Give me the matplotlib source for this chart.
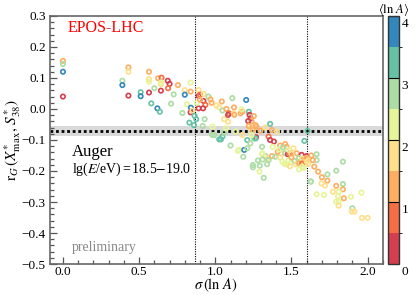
import numpy as np
import matplotlib
matplotlib.use("Agg")
import matplotlib.pyplot as plt
from matplotlib.colors import ListedColormap, BoundaryNorm
from matplotlib.ticker import MultipleLocator
from matplotlib.transforms import ScaledTranslation

# points: sigma(lnA), r_G, <lnA>
sigma_lnA = [
    0.0, 0.0, 0.0, 0.0,
    0.43, 0.43, 0.39, 0.39, 0.43,
    0.51, 0.51, 0.565, 0.565, 0.565, 0.565, 0.60, 0.58, 0.62, 0.636, 0.625, 0.647, 0.643, 0.643, 0.645,
    0.688, 0.70, 0.69, 0.727, 0.755, 0.80, 0.838, 0.838, 0.80, 0.814, 0.71, 0.784, 0.84, 0.838, 0.85,
    0.89, 0.89, 0.90, 0.864, 0.875, 0.83, 0.86, 0.93, 0.917, 0.922, 0.935, 0.89, 0.92, 0.924, 0.955,
    0.968, 0.976, 0.88, 0.90,
    1.008, 1.043, 1.026, 1.047, 1.073, 1.112, 1.123, 1.09, 1.12, 1.058, 1.084, 1.084, 1.125, 1.177,
    1.167, 1.173, 1.203, 1.22, 1.225, 1.232, 1.238, 1.253, 1.216, 1.264, 1.23,
    1.27, 1.22, 1.247, 1.268, 1.297, 1.329, 1.36, 1.372, 1.35, 1.36, 1.385, 1.377, 1.405, 1.21, 1.177,
    1.134, 1.047, 1.026, 1.058, 0.994, 0.982, 1.07, 1.10, 1.23, 1.253, 1.307, 1.426, 1.459, 1.468,
    1.513, 1.585, 1.606, 0.98, 1.037, 1.156, 1.19, 1.21, 1.264, 1.238,
    1.149, 1.184, 1.247, 1.247, 1.292, 1.29, 1.318, 1.307, 1.329, 1.34, 1.372, 1.394, 1.426, 1.43,
    1.41, 1.459, 1.476, 1.49, 1.535, 1.567, 1.60, 1.59, 1.31, 1.35, 1.31, 1.28, 1.34,
    1.48, 1.50, 1.52, 1.55, 1.455, 1.47, 1.49, 1.53, 1.44, 1.42, 1.445, 1.48, 1.50, 1.57, 1.59,
    1.55, 1.50, 1.57, 1.63, 1.665, 1.665, 1.57, 1.60, 1.61, 1.64, 1.65, 1.675, 1.60, 1.627, 1.70,
    1.736, 1.736, 1.794, 1.838, 1.627, 1.61, 1.697, 1.72, 1.57, 1.58, 1.55, 1.794, 1.838, 1.838,
    1.773, 1.81, 1.805, 1.844, 1.714, 1.665, 1.794, 1.81, 1.81, 1.89, 1.96, 1.90, 1.896, 1.913,
    1.963, 2.0,
]
r_G = [
    0.155, 0.145, 0.12, 0.04,
    0.134, 0.12, 0.091, 0.077, 0.043,
    0.054, 0.041, 0.12, 0.096, 0.088, 0.053, 0.067, 0.018, 0.002, -0.009, 0.099, 0.101, 0.08, 0.059, 0.086,
    0.091, 0.081, 0.067, 0.047, 0.077, 0.061, 0.085, 0.056, 0.046, 0.015, 0.017, -0.013, 0.004, -0.011, -0.005,
    0.042, 0.061, 0.046, -0.022, -0.033, -0.044, -0.052, -0.033, -0.055, 0.026, 0.013, 0.002, 0.002, 0.048, 0.040,
    0.031, 0.020, 0.020, 0.030,
    0.011, 0.024, 0.005, -0.005, 0.0, 0.035, 0.005, -0.014, -0.014, -0.033, -0.019, -0.041, -0.019, -0.009,
    -0.014, -0.001, 0.029, -0.009, -0.019, -0.030, -0.039, -0.023, -0.039, -0.052, -0.062,
    -0.057, -0.055, -0.068, -0.091, -0.070, -0.060, -0.048, -0.068, -0.089, -0.100, -0.105, -0.122, -0.073, -0.100, -0.084,
    -0.073, -0.089, -0.098, -0.076, -0.084, -0.057, -0.062, -0.118, -0.111, -0.095, -0.122, -0.118, -0.113, -0.122,
    -0.127, -0.103, -0.071, -0.084, -0.098, -0.132, -0.132, -0.127, -0.095, -0.084,
    -0.135, -0.154, -0.181, -0.188, -0.183, -0.202, -0.222, -0.145, -0.152, -0.160, -0.152, -0.154, -0.156, -0.143,
    -0.138, -0.143, -0.146, -0.143, -0.143, -0.148, -0.152, -0.159, -0.143, -0.165, -0.163, -0.166, -0.178,
    -0.165, -0.172, -0.168, -0.158, -0.177, -0.179, -0.185, -0.178, -0.170, -0.130, -0.124, -0.132, -0.145, -0.165, -0.172,
    -0.175, -0.156, -0.160, -0.150, -0.146, -0.165, -0.176, -0.160, -0.165, -0.165, -0.186, -0.202, -0.170, -0.234, -0.220,
    -0.231, -0.211, -0.199, -0.170, -0.234, -0.177, -0.240, -0.247, -0.186, -0.190, -0.195, -0.248, -0.242, -0.259,
    -0.267, -0.267, -0.281, -0.288, -0.277, -0.275, -0.299, -0.299, -0.312, -0.283, -0.270, -0.320, -0.331, -0.331,
    -0.351, -0.351,
]
mean_lnA = [
    1.25, 2.75, 3.75, 0.25,
    1.25, 1.75, 2.75, 3.75, 0.25,
    3.25, 3.75, 1.25, 1.75, 2.25, 0.25, 2.75, 3.25, 3.75, 3.25, 1.25, 0.75, 1.75, 0.25, 2.25,
    0.25, 0.25, 0.75, 2.75, 1.25, 1.75, 2.25, 1.25, 3.75, 2.25, 2.75, 2.75, 3.75, 0.25, 1.75,
    0.25, 1.75, 0.75, 3.25, 3.25, 3.25, 3.25, 2.75, 2.75, 0.25, 0.75, 0.25, 0.25, 1.75, 2.75,
    1.25, 1.25, 2.25, 1.25,
    1.75, 1.25, 1.75, 2.75, 1.25, 2.75, 1.25, 0.75, 1.75, 1.75, 0.25, 1.75, 1.25, 1.25,
    1.25, 2.25, 3.75, 3.25, 0.25, 0.25, 1.25, 1.25, 0.25, 1.25, 1.75,
    1.25, 1.25, 1.25, 0.25, 1.25, 1.75, 3.25, 1.25, 0.75, 0.25, 0.25, 2.25, 1.75, 3.25, 1.75,
    2.25, 3.25, 3.25, 2.75, 2.75, 2.25, 2.25, 2.75, 2.75, 2.75, 2.75, 1.25, 1.25, 1.25,
    1.75, 3.25, 3.25, 2.75, 3.25, 2.25, 3.75, 2.75, 3.25, 2.25,
    2.25, 2.75, 2.75, 2.75, 2.75, 2.25, 2.75, 2.25, 2.75, 1.75, 1.25, 2.75, 1.75, 1.75,
    1.25, 2.75, 0.25, 0.75, 1.25, 0.25, 0.25, 1.25, 2.25, 2.75, 2.75, 2.75, 2.75,
    2.25, 2.25, 2.75, 2.75, 2.25, 2.25, 1.75, 1.75, 2.25, 2.25, 2.75, 2.25, 1.75, 1.25, 1.25,
    1.25, 1.25, 1.75, 1.25, 2.75, 2.75, 0.75, 1.25, 1.75, 1.25, 1.25, 1.25, 1.75, 2.75, 1.25,
    1.25, 2.75, 2.75, 2.75, 2.75, 1.75, 1.75, 1.75, 2.25, 2.25, 2.25, 1.25, 2.75, 1.25,
    1.75, 2.25, 2.25, 1.25, 2.4, 2.25, 2.25, 2.25, 1.75, 2.25, 2.25, 2.75, 1.75, 1.75,
    1.75, 1.75,
]

band_center = -0.071
band_halfwidth = 0.016
vlines_x = [0.864, 1.605]

plt.rcParams["font.family"] = ["Liberation Serif", "DejaVu Serif"]
plt.rcParams["mathtext.fontset"] = "stix"

spectral8 = ["#d53e4f", "#f46d43", "#fdae61", "#fee08b",
             "#e6f598", "#abdda4", "#66c2a5", "#3288bd"]
cmap = ListedColormap(spectral8)
norm = BoundaryNorm(np.arange(0, 4.01, 0.5), cmap.N)

fig = plt.figure(figsize=(4.15, 2.95), dpi=100)
ax = fig.add_axes([0.1205, 0.105, 0.802, 0.841])
cax = fig.add_axes([0.935, 0.105, 0.0265, 0.841])

ax.axhspan(band_center - band_halfwidth, band_center + band_halfwidth,
           color="#d9d9d9", lw=0, zorder=1)
ax.axhline(band_center, color="black", lw=2.0, ls=(0, (1, 1)), zorder=2)
for xv in vlines_x:
    ax.axvline(xv, color="black", lw=0.8, ls=(0, (1, 1.2)), zorder=2)

sc = ax.scatter(sigma_lnA, r_G, c=mean_lnA, cmap=cmap, norm=norm, s=10,
                facecolors="none", linewidths=1.2, zorder=3)
sc.set_facecolor("none")
sc.set_edgecolors(cmap(norm(np.array(mean_lnA))))

ax.set_xlim(-0.085, 2.1)
ax.set_ylim(-0.5, 0.3)
ax.xaxis.set_major_locator(MultipleLocator(0.5))
ax.xaxis.set_minor_locator(MultipleLocator(0.1))
ax.yaxis.set_major_locator(MultipleLocator(0.1))
ax.yaxis.set_minor_locator(MultipleLocator(0.02))
ax.xaxis.set_major_formatter(matplotlib.ticker.FormatStrFormatter("%.1f"))
ax.yaxis.set_major_formatter(matplotlib.ticker.FuncFormatter(
    lambda v, p: f"{v:.1f}".replace("-", "\u2212")))
ax.tick_params(which="both", direction="in", top=False, right=False,
               labelsize=9.5, color="#555555", width=0.9)
ax.tick_params(which="major", length=5, pad=3)
ax.tick_params(which="minor", length=3)
ax.tick_params(axis="x", which="major", pad=1.5)
for s in ax.spines.values():
    s.set_color("#666666")
    s.set_linewidth(1.2)

ax.set_xlabel(r"$\sigma\,(\mathrm{ln}\ A)$", fontsize=10.5, va="bottom")
ax.xaxis.set_label_coords(0.5, -0.121)
ax.set_ylabel(r"$\mathrm{r}_G\,(X^{*}_{\mathrm{max}},\,S^{*}_{38})$", fontsize=11, va="center")
ax.yaxis.set_label_coords(-0.112, 0.5)

ax.text(0.054, 0.952, "EPOS-LHC", color="red", fontsize=11.5,
        transform=ax.transAxes, va="center", ha="left")
ax.text(0.066, 0.452, "Auger", fontsize=12,
        transform=ax.transAxes, va="center", ha="left")
ax.text(0.066, 0.383, r"lg($E$/eV)$\,$=$\,$18.5$-$19.0", fontsize=10,
        transform=ax.transAxes, va="center", ha="left")
ax.text(0.066, 0.065, "preliminary", color="#888888", fontsize=10,
        transform=ax.transAxes, va="center", ha="left")

cb = fig.colorbar(sc, cax=cax, ticks=[0, 1, 2, 3, 4])
cb.outline.set_linewidth(1.0)
cb.outline.set_edgecolor("#333333")
cax.tick_params(labelsize=9.5, length=0, pad=2)
cax.set_yticks([0, 1, 2, 3, 4])
cax.set_yticklabels(["0", "1", "2", "3", "4"], va="top")
shift = ScaledTranslation(0, -1.5 / 72, fig.dpi_scale_trans)
for lab in cax.get_yticklabels():
    lab.set_transform(lab.get_transform() + shift)
for lv in [1, 2, 3, 4]:
    cax.axhline(lv, color="black", lw=0.8)
cax.text(0.5, 1.062, r"$\langle\mathrm{ln}\ A\rangle$", transform=cax.transAxes,
         ha="center", va="top", fontsize=9)

fig.savefig("out.png", dpi=100)
